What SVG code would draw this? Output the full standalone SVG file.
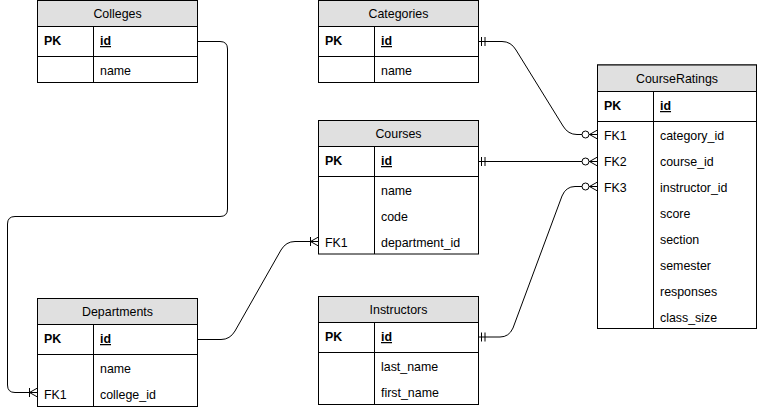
<svg xmlns="http://www.w3.org/2000/svg" width="758" height="409" viewBox="0 0 758 409">
<style>
.tb{fill:#ffffff;stroke:#000000;stroke-width:1}
.hd{fill:#e0e0e0;stroke:#000000;stroke-width:1}
.ln{stroke:#000000;stroke-width:1;fill:none}
text{font-family:"Liberation Sans",Arial,Helvetica,sans-serif;font-size:12.4px;fill:#000000}
.ttl{text-anchor:middle}
.pk{font-weight:bold}
.pkf{font-weight:bold;text-decoration:underline}
.cn{stroke:#000000;stroke-width:1;fill:none}
</style>
<defs>
<marker id="mOne" viewBox="-16 -8 32 16" markerWidth="32" markerHeight="16" refX="0" refY="0" orient="auto" markerUnits="userSpaceOnUse" overflow="visible">
<path d="M3,-4.5 V4.5 M6.5,-4.5 V4.5" stroke="#000" stroke-width="1" fill="none"/>
</marker>
<marker id="zMany" viewBox="-16 -8 32 16" markerWidth="32" markerHeight="16" refX="0" refY="0" orient="auto" markerUnits="userSpaceOnUse" overflow="visible">
<circle cx="-12" cy="0" r="3.5" fill="#fff" stroke="#000" stroke-width="1"/>
<path d="M-8,0 L0,-4.5 M-8,0 L0,0 M-8,0 L0,4.5" stroke="#000" stroke-width="1" fill="none"/>
</marker>
<marker id="oMany" viewBox="-16 -8 32 16" markerWidth="32" markerHeight="16" refX="0" refY="0" orient="auto" markerUnits="userSpaceOnUse" overflow="visible">
<path d="M-8,-4.5 V4.5 M-8,0 L0,-4.5 M-8,0 L0,0 M-8,0 L0,4.5" stroke="#000" stroke-width="1" fill="none"/>
</marker>
</defs>

<g id="connectors">
<path class="cn" d="M197.5,41.5 H220 Q227.5,41.5 227.5,49 V209 Q227.5,216.5 220,216.5 H15 Q7.5,216.5 7.5,224 V385 Q7.5,392.5 15,392.5 H37.5" marker-end="url(#oMany)"/>
<path class="cn" d="M478.5,41.5 L502,41.5 Q511,41.5 516,50 L563,126 Q568,134.5 577,134.5 L597.5,134.5" marker-start="url(#mOne)" marker-end="url(#zMany)"/>
<path class="cn" d="M478.5,161.5 L597.5,161.5" marker-start="url(#mOne)" marker-end="url(#zMany)"/>
<path class="cn" d="M478.5,337 L500,337 Q509,337 513,328 L562,196 Q566,186.5 575,186.5 L597.5,186.5" marker-start="url(#mOne)" marker-end="url(#zMany)"/>
<path class="cn" d="M197.5,339.5 L221,339.5 Q230,339.5 235,331 L281,250 Q286,241.5 295,241.5 L318.5,241.5" marker-end="url(#oMany)"/>
</g>

<g id="Colleges">
<rect class="tb" x="37.5" y="0.5" width="160" height="82"/>
<rect class="hd" x="37.5" y="0.5" width="160" height="26"/>
<path class="ln" d="M37.5,56.5 H197.5 M93.5,26.5 V82.5"/>
<text class="ttl" x="117.5" y="18">Colleges</text>
<text class="pk" x="44" y="45">PK</text>
<text class="pkf" x="100" y="45">id</text>
<text x="100" y="75">name</text>
</g>

<g id="Categories">
<rect class="tb" x="318.5" y="0.5" width="160" height="82"/>
<rect class="hd" x="318.5" y="0.5" width="160" height="26"/>
<path class="ln" d="M318.5,56.5 H478.5 M374.5,26.5 V82.5"/>
<text class="ttl" x="398.5" y="18">Categories</text>
<text class="pk" x="325" y="45">PK</text>
<text class="pkf" x="381" y="45">id</text>
<text x="381" y="75">name</text>
</g>

<g id="Courses">
<rect class="tb" x="318.5" y="120.5" width="160" height="133.5"/>
<rect class="hd" x="318.5" y="120.5" width="160" height="26"/>
<path class="ln" d="M318.5,176.5 H478.5 M374.5,146.5 V254"/>
<text class="ttl" x="398.5" y="138">Courses</text>
<text class="pk" x="325" y="165">PK</text>
<text class="pkf" x="381" y="165">id</text>
<text x="381" y="195">name</text>
<text x="381" y="221">code</text>
<text x="325" y="247">FK1</text>
<text x="381" y="247">department_id</text>
</g>

<g id="Departments">
<rect class="tb" x="37.5" y="298.5" width="160" height="108"/>
<rect class="hd" x="37.5" y="298.5" width="160" height="26"/>
<path class="ln" d="M37.5,354.5 H197.5 M93.5,324.5 V406.5"/>
<text class="ttl" x="117.5" y="316">Departments</text>
<text class="pk" x="44" y="343">PK</text>
<text class="pkf" x="100" y="343">id</text>
<text x="100" y="373">name</text>
<text x="44" y="399">FK1</text>
<text x="100" y="399">college_id</text>
</g>

<g id="Instructors">
<rect class="tb" x="318.5" y="296.5" width="160" height="108"/>
<rect class="hd" x="318.5" y="296.5" width="160" height="26"/>
<path class="ln" d="M318.5,352.5 H478.5 M374.5,322.5 V404.5"/>
<text class="ttl" x="398.5" y="314">Instructors</text>
<text class="pk" x="325" y="341">PK</text>
<text class="pkf" x="381" y="341">id</text>
<text x="381" y="371">last_name</text>
<text x="381" y="397">first_name</text>
</g>

<g id="CourseRatings">
<rect class="tb" x="597.5" y="65" width="159" height="263.5"/>
<rect class="hd" x="597.5" y="65" width="159" height="26.5"/>
<path class="ln" d="M597.5,121.5 H756.5 M653.5,91.5 V328.5"/>
<text class="ttl" x="677" y="83">CourseRatings</text>
<text class="pk" x="604" y="110">PK</text>
<text class="pkf" x="660" y="110">id</text>
<text x="604" y="140">FK1</text>
<text x="660" y="140">category_id</text>
<text x="604" y="166">FK2</text>
<text x="660" y="166">course_id</text>
<text x="604" y="192">FK3</text>
<text x="660" y="192">instructor_id</text>
<text x="660" y="218">score</text>
<text x="660" y="244">section</text>
<text x="660" y="270">semester</text>
<text x="660" y="296">responses</text>
<text x="660" y="322">class_size</text>
</g>
</svg>
